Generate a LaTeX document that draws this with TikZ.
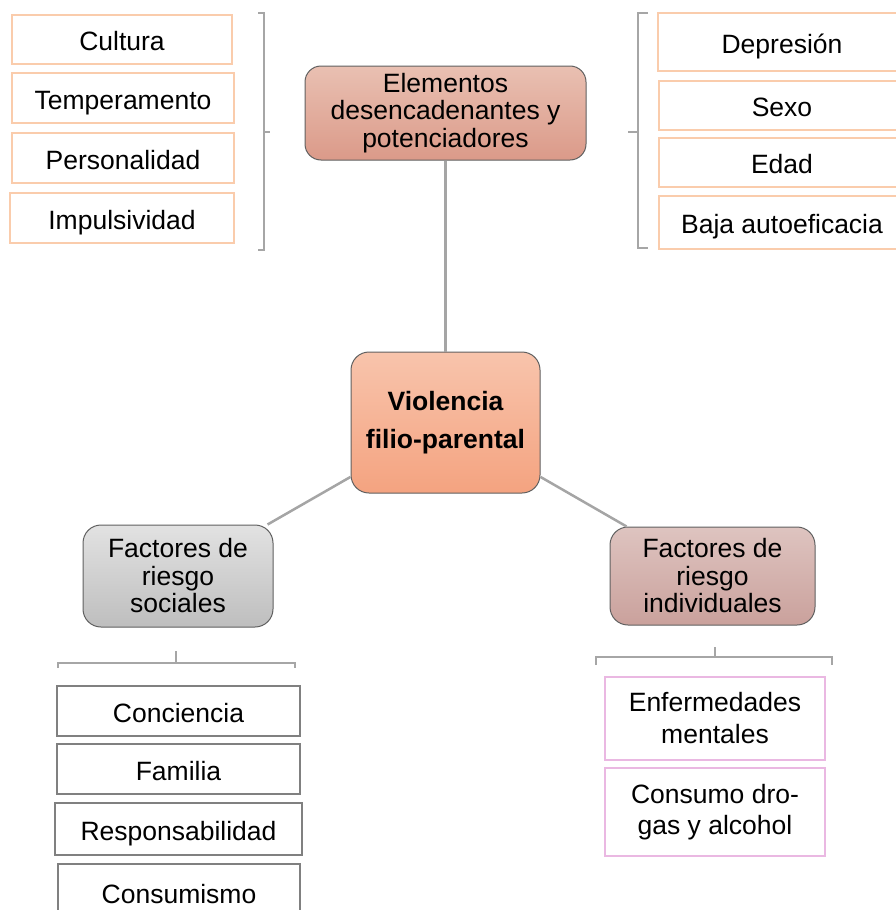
\documentclass[tikz,border=0pt]{standalone}
\usepackage{fontspec}
\setmainfont{Liberation Sans}
\usepackage{xcolor}
\definecolor{peachline}{RGB}{250,204,172}
\definecolor{pinkline}{RGB}{234,184,226}
\definecolor{greyline}{RGB}{128,128,128}
\definecolor{bracecol}{RGB}{166,166,166}
\definecolor{linkcol}{RGB}{165,165,165}
\definecolor{roundline}{RGB}{96,96,96}

\begin{document}
\begin{tikzpicture}[x=1pt, y=-1pt,
    every node/.style={font=\fontsize{26.5}{27.5}\selectfont, align=center, inner sep=0pt},
    item/.style={rectangle, draw, fill=white, line width=2pt},
    oneline/.style={text height=23pt, text depth=0pt},
    peachbox/.style={item, oneline, draw=peachline},
    greybox/.style={item, oneline, draw=greyline},
    pinkbox/.style={item, draw=pinkline, line width=2.2pt},
    topic/.style={rectangle, rounded corners=16pt, draw=roundline, line width=1pt},
    link/.style={draw=linkcol, line width=2.5pt},
    brace/.style={draw=bracecol, line width=2pt}]
    \useasboundingbox (0,0) rectangle (896,910);

    % upper left group
    \node[peachbox, minimum width=220, minimum height=49] (cultura) at (122, 39) {Cultura};
    \node[peachbox, minimum width=222, minimum height=50] (temper) at (123, 98) {Temperamento};
    \node[peachbox, minimum width=222, minimum height=50] (personal) at (123, 158) {Personalidad};
    \node[peachbox, minimum width=224, minimum height=50] (impuls) at (122, 218) {Impulsividad};
    \draw[brace] (258,13) -- (264,13) -- (264,250) -- (258,250);
    \draw[brace] (264,132) -- (270,132);

    % upper right group
    \node[peachbox, minimum width=248, minimum height=58] (depres) at (782, 42) {Depresión};
    \node[peachbox, minimum width=246, minimum height=49] (sexo) at (782, 105) {Sexo};
    \node[peachbox, minimum width=246, minimum height=49] (edad) at (782, 162) {Edad};
    \node[peachbox, minimum width=246, minimum height=53] (baja) at (782, 222) {Baja autoeficacia};
    \draw[brace] (648,13) -- (638,13) -- (638,248) -- (648,248);
    \draw[brace] (638,132) -- (628,132);

    % main topics
    \node[topic, top color={rgb,255:red,233;green,192;blue,178}, bottom color={rgb,255:red,219;green,154;blue,137},
          minimum width=281, minimum height=94] (elem) at (445.5, 113)
          {Elementos\\desencadenantes y\\potenciadores};
    \node[topic, rounded corners=18pt, top color={rgb,255:red,248;green,196;blue,172}, bottom color={rgb,255:red,244;green,163;blue,128},
          minimum width=189, minimum height=141] (vfp) at (445.5, 422.5)
          {\bfseries Violencia\\[10.5pt]\bfseries filio-parental};
    \node[topic, rounded corners=18pt, top color={rgb,255:red,226;green,226;blue,226}, bottom color={rgb,255:red,190;green,190;blue,190},
          minimum width=190, minimum height=102] (sociales) at (178, 576)
          {Factores de\\riesgo\\sociales};
    \node[topic, rounded corners=18pt, top color={rgb,255:red,222;green,196;blue,192}, bottom color={rgb,255:red,202;green,161;blue,156},
          minimum width=205, minimum height=98] (individ) at (712.5, 576)
          {Factores de\\riesgo\\individuales};

    \draw[link] (elem) -- (vfp);
    \draw[link] (vfp) -- (sociales);
    \draw[link] (vfp) -- (individ);

    % lower left group
    \draw[brace] (58,668) -- (58,663) -- (295,663) -- (295,668);
    \draw[brace] (176,663) -- (176,651);
    \node[greybox, minimum width=243, minimum height=50] (concien) at (178.5, 711) {Conciencia};
    \node[greybox, minimum width=243, minimum height=50] (familia) at (178.5, 769) {Familia};
    \node[greybox, minimum width=247, minimum height=52] (respons) at (178.5, 829) {Responsabilidad};
    \node[greybox, minimum width=242, minimum height=56] (consum) at (179, 892) {Consumismo};

    % lower right group
    \draw[brace] (596,665) -- (596,657) -- (832,657) -- (832,665);
    \draw[brace] (715,657) -- (715,647);
    \node[pinkbox, font=\fontsize{26.5}{32}\selectfont, minimum width=220, minimum height=83] (enferm) at (715, 718.5)
          {Enfermedades\\mentales};
    \node[pinkbox, font=\fontsize{26.5}{30.5}\selectfont, minimum width=220, minimum height=88] (drogas) at (715, 812)
          {Consumo dro-\\gas y alcohol};
\end{tikzpicture}
\end{document}
